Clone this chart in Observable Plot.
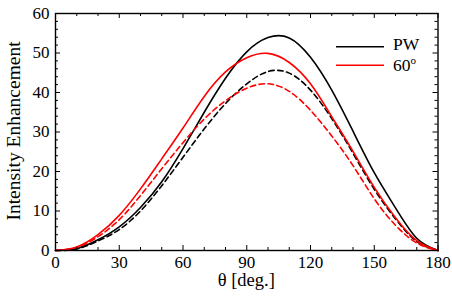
<!DOCTYPE html>
<html><head><meta charset="utf-8">
<script src="https://cdn.jsdelivr.net/npm/d3@7"></script>
<script src="https://cdn.jsdelivr.net/npm/@observablehq/plot@0.6"></script>
<style>
body{margin:0;background:#fff}
#chart{width:452px;height:298px}
#chart svg, #chart svg text{font-family:"Liberation Serif","Times New Roman",serif}
</style>
</head><body><div id="chart"></div>
<script>
// θ grid (deg.)
const theta = [0,10,20,30,40,50,60,70,80,90,100,110,120,130,140,150,160,170,180];
// PW solid / dashed
const pwSolid  = [0,0.5,2.7,6.0,10.9,17.4,25.8,35.0,43.6,50.3,53.9,53.8,48.9,40.6,30.2,19.7,10.8,3.1,0];
const pwDashed = [0,0.4,2.4,5.3,10.0,16.4,23.6,30.8,37.2,42.2,45.3,44.9,40.6,33.4,24.6,15.5,8.0,2.3,0];
// 60° solid / dashed
const s60Solid  = [0,0.9,4.0,8.9,15.6,23.2,31.0,39.0,45.2,48.8,49.9,47.6,42.2,33.9,25.1,16.0,8.3,2.5,0];
const s60Dashed = [0,0.8,3.5,7.8,13.9,20.7,27.3,33.3,37.9,41.1,42.2,40.3,35.5,29.0,21.5,13.1,6.4,1.9,0];

const seriesNames = ["PW", "PW dashed", "60", "60 dashed"];
const seriesValues = [pwSolid, pwDashed, s60Solid, s60Dashed];
const seriesColors = ["#000000", "#000000", "#ff0000", "#ff0000"];
const seriesDash = [null, "5.5,3.5", null, "5.5,3.5"];

const xTicks = [0,30,60,90,120,150,180];
const xMinor = [10,20,40,50,70,80,100,110,130,140,160,170];
const yTicks = [0,10,20,30,40,50,60];
const yMinor = d3.range(2, 60, 2).filter(v => v % 10 !== 0);

const legendLabels = ["PW", "60"];
const legendColors = ["#000000", "#ff0000"];

const W = 452, H = 298;
const mT = 13, mR = 14.5, mB = 48, mL = 55;
const iw = W - mL - mR, ih = H - mT - mB;
const FONT = "'Liberation Serif', 'Times New Roman', serif";

const rows = seriesNames.map((name, i) => theta.map((t, j) => ({theta: t, value: seriesValues[i][j], series: name})));

const lineMarks = rows.map((r, i) => Plot.line(r, {
  x: "theta", y: "value", stroke: seriesColors[i], strokeWidth: 1.6,
  strokeDasharray: seriesDash[i] || undefined, curve: "natural"
}));

const plot = Plot.plot({
  width: W, height: H,
  marginTop: mT, marginRight: mR, marginBottom: mB, marginLeft: mL,
  style: {fontFamily: FONT, fontSize: "17px", background: "white", color: "black"},
  x: {domain: [0, 180]},
  y: {domain: [0, 60]},
  marks: [
    ...lineMarks,
    Plot.tickX(xTicks, {x: d => d, insetTop: ih - 5, stroke: "black", strokeWidth: 1}),
    Plot.tickX(xTicks, {x: d => d, insetBottom: ih - 5, stroke: "black", strokeWidth: 1}),
    Plot.tickX(xMinor, {x: d => d, insetTop: ih - 3, stroke: "black", strokeWidth: 1}),
    Plot.tickX(xMinor, {x: d => d, insetBottom: ih - 3, stroke: "black", strokeWidth: 1}),
    Plot.tickY(yTicks, {y: d => d, insetRight: iw - 5, stroke: "black", strokeWidth: 1}),
    Plot.tickY(yTicks, {y: d => d, insetLeft: iw - 5, stroke: "black", strokeWidth: 1}),
    Plot.tickY(yMinor, {y: d => d, insetRight: iw - 3, stroke: "black", strokeWidth: 1}),
    Plot.tickY(yMinor, {y: d => d, insetLeft: iw - 3, stroke: "black", strokeWidth: 1}),
    Plot.axisX({ticks: xTicks, tickSize: 0, tickPadding: 5, label: null, fontSize: 17}),
    Plot.axisY({ticks: yTicks, tickSize: 0, tickPadding: 6, label: null, fontSize: 17}),
    Plot.frame({stroke: "black", strokeWidth: 1.4})
  ]
});

const svg = d3.select(plot);
svg.attr("font-family", FONT).attr("font-size", 17);
svg.selectAll("g[aria-label='x-axis tick label'], g[aria-label='y-axis tick label']")
  .attr("font-size", 17).attr("font-family", FONT);
svg.selectAll("g[aria-label='x-axis tick label'] text, g[aria-label='y-axis tick label'] text")
  .style("font-size", "17px").style("font-family", FONT);
// axis titles
svg.append("text")
  .attr("transform", `translate(19.5,131) rotate(-90)`)
  .attr("text-anchor", "middle")
  .attr("font-family", FONT)
  .attr("font-size", 19.5)
  .attr("fill", "black")
  .text("Intensity Enhancement");
svg.append("text")
  .attr("x", mL + iw / 2).attr("y", 286)
  .attr("text-anchor", "middle")
  .attr("font-family", FONT)
  .attr("font-size", 18.5)
  .attr("fill", "black")
  .text("θ [deg.]");
// legend
const lg = svg.append("g");
legendLabels.forEach((lab, i) => {
  const y = 46.7 + i * 18.5;
  lg.append("line").attr("x1", 336).attr("x2", 384).attr("y1", y).attr("y2", y)
    .attr("stroke", legendColors[i]).attr("stroke-width", 1.6);
  const t = lg.append("text").attr("x", 393).attr("y", y + 3 + i * 2.5)
    .attr("text-anchor", "start")
    .attr("font-family", FONT)
    .attr("font-size", 17.5).attr("fill", "black");
  t.append("tspan").text(lab);
  if (i === 1) t.append("tspan").attr("dy", -7).attr("font-size", 11).text("o");
});

document.getElementById("chart").appendChild(plot);
</script>
</body></html>
